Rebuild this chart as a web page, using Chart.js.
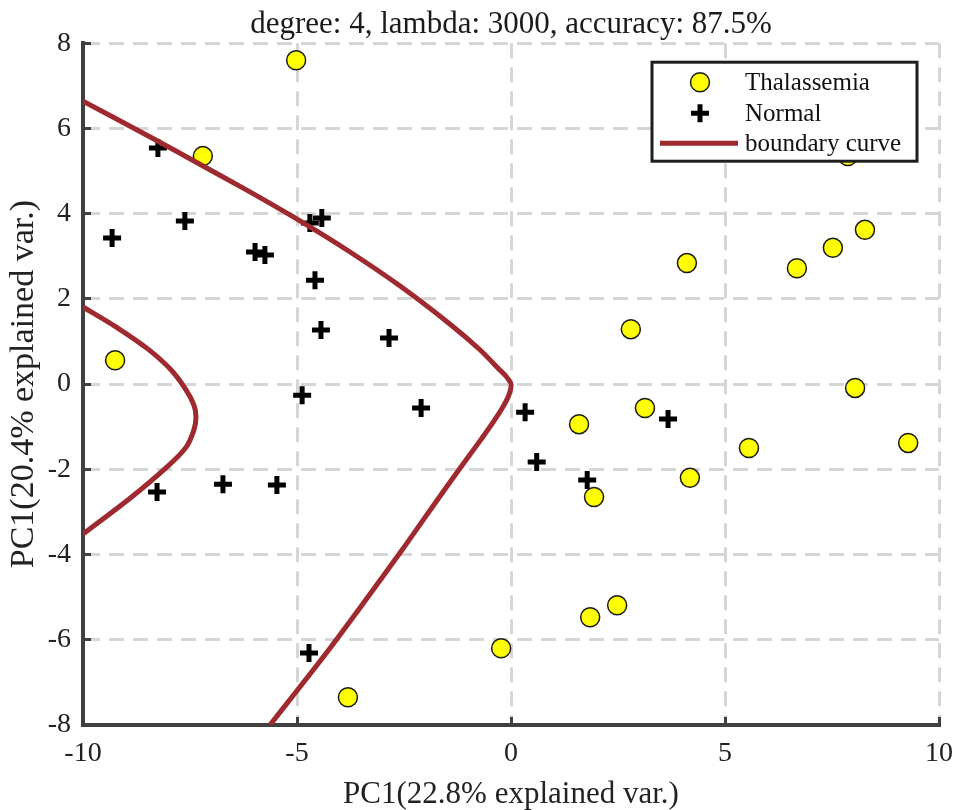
<!DOCTYPE html>
<html>
<head>
<meta charset="utf-8">
<script src="https://cdn.jsdelivr.net/npm/chart.js@4.4.0/dist/chart.umd.min.js"></script>
<style>
html,body{margin:0;padding:0;background:#fff;}
#wrap{width:963px;height:810px;position:relative;}
</style>
</head>
<body>
<div id="wrap"><canvas id="c"></canvas></div>
<script>
// ---- data ----
const titleText = 'degree: 4, lambda: 3000, accuracy: 87.5%';
const xAxisLabel = 'PC1(22.8% explained var.)';
const yAxisLabel = 'PC1(20.4% explained var.)';
const seriesNames = ['Thalassemia', 'Normal', 'boundary curve'];

const xTicks = [-10, -5, 0, 5, 10];
const yTicks = [-8, -6, -4, -2, 0, 2, 4, 6, 8];

const thalX = [-5.02, -7.2, -9.25, 7.87, 8.27, 7.52, 6.68, 4.11, 2.8, 8.04, 9.28, 5.56, 3.13, 1.59, 1.94, 4.18, 1.85, 2.48, -0.23, -3.81];
const thalY = [7.6, 5.35, 0.56, 5.35, 3.62, 3.2, 2.72, 2.84, 1.29, -0.09, -1.38, -1.5, -0.56, -0.94, -2.65, -2.2, -5.47, -5.19, -6.2, -7.35];

const normX = [-8.25, -9.32, -7.62, -5.98, -5.75, -4.7, -4.42, -4.58, -4.44, -2.85, -4.88, -2.1, 0.33, 3.67, 0.6, 1.78, -8.27, -6.73, -5.47, -4.72];
const normY = [5.54, 3.43, 3.83, 3.1, 3.03, 3.78, 3.9, 2.44, 1.27, 1.08, -0.26, -0.56, -0.66, -0.82, -1.83, -2.25, -2.53, -2.35, -2.37, -6.31];

const curve1X = [-10, -8.43, -7.27, -6.10, -4.93, -3.76, -2.59, -1.43, -0.72, -0.26, -0.12, 0.0, -0.05, -0.19, -0.40, -0.68, -1.00, -1.66, -2.55, -4.23, -5.63];
const curve1Y = [6.64, 5.80, 5.16, 4.51, 3.83, 3.10, 2.30, 1.41, 0.80, 0.33, 0.19, 0.0, -0.26, -0.54, -0.87, -1.27, -1.71, -2.63, -3.90, -6.20, -8.0];

const curve2X = [-10, -9.18, -8.48, -7.94, -7.59, -7.41, -7.36, -7.41, -7.59, -8.01, -8.90, -10];
const curve2Y = [1.81, 1.31, 0.82, 0.33, -0.14, -0.49, -0.77, -1.08, -1.48, -1.92, -2.68, -3.52];

const zip = (xs, ys) => xs.map((x, i) => ({x: x, y: ys[i]}));

const SERIF = '"Liberation Serif", "Times New Roman", serif';
const curveColor = '#9e2a2f';

const boxLegend = {
  id: 'boxLegend',
  afterDatasetsDraw(chart) {
    const {ctx, chartArea} = chart;
    const w = 265, h = 99;
    const x0 = chartArea.right - 22 - w;
    const y0 = chartArea.top + 19;
    ctx.save();
    ctx.fillStyle = '#ffffff';
    ctx.fillRect(x0, y0, w, h);
    ctx.lineWidth = 3;
    ctx.strokeStyle = '#1e1e1e';
    ctx.strokeRect(x0, y0, w, h);
    const rows = [20, 51, 81];
    const ds = chart.data.datasets;
    ctx.font = '25px ' + SERIF;
    ctx.textBaseline = 'middle';
    ctx.textAlign = 'left';
    for (let i = 0; i < 3; i++) {
      const cy = y0 + rows[i];
      const mx = x0 + 48;
      const d = ds[i];
      if (i === 0) {
        ctx.beginPath();
        ctx.arc(mx, cy, 9.5, 0, Math.PI * 2);
        ctx.fillStyle = d.backgroundColor;
        ctx.fill();
        ctx.lineWidth = 1.5;
        ctx.strokeStyle = d.borderColor;
        ctx.stroke();
      } else if (i === 1) {
        ctx.beginPath();
        ctx.lineWidth = 5;
        ctx.strokeStyle = d.borderColor;
        ctx.moveTo(mx - 9, cy); ctx.lineTo(mx + 9, cy);
        ctx.moveTo(mx, cy - 9); ctx.lineTo(mx, cy + 9);
        ctx.stroke();
      } else {
        ctx.beginPath();
        ctx.lineWidth = 5;
        ctx.strokeStyle = d.borderColor;
        ctx.moveTo(x0 + 8, cy); ctx.lineTo(x0 + 86, cy);
        ctx.stroke();
      }
      ctx.fillStyle = '#111';
      ctx.fillText(seriesNames[i], x0 + 93, cy + 1);
    }
    ctx.restore();
  }
};

const bgPlugin = {
  id: 'bg',
  beforeDraw(chart) {
    const {ctx} = chart;
    ctx.save();
    ctx.fillStyle = '#ffffff';
    ctx.fillRect(0, 0, chart.width, chart.height);
    ctx.restore();
  }
};

new Chart(document.getElementById('c'), {
  type: 'scatter',
  data: {
    datasets: [
      {
        label: seriesNames[0],
        data: zip(thalX, thalY),
        pointStyle: 'circle',
        pointRadius: 9.5,
        pointHoverRadius: 9.5,
        backgroundColor: '#ffff00',
        borderColor: '#1a1a1a',
        pointBorderWidth: 1.5,
        order: 2
      },
      {
        label: seriesNames[1],
        data: zip(normX, normY),
        pointStyle: 'cross',
        pointRadius: 9,
        pointHoverRadius: 9,
        backgroundColor: '#000000',
        borderColor: '#000000',
        pointBorderWidth: 5,
        order: 2
      },
      {
        label: seriesNames[2],
        data: zip(curve1X, curve1Y),
        showLine: true,
        pointRadius: 0,
        borderColor: curveColor,
        backgroundColor: curveColor,
        borderWidth: 5,
        tension: 0.25,
        fill: false,
        order: 1
      },
      {
        label: seriesNames[2] + ' (2)',
        data: zip(curve2X, curve2Y),
        showLine: true,
        pointRadius: 0,
        borderColor: curveColor,
        backgroundColor: curveColor,
        borderWidth: 5,
        tension: 0.25,
        fill: false,
        order: 1
      }
    ]
  },
  options: {
    responsive: true,
    maintainAspectRatio: false,
    animation: false,
    layout: {padding: {top: 0, right: 24, bottom: 0, left: 0}},
    plugins: {
      legend: {display: false},
      tooltip: {enabled: false},
      title: {
        display: true,
        fullSize: false,
        text: titleText,
        color: '#1a1a1a',
        font: {family: SERIF, size: 31, weight: 'normal', lineHeight: 1.2},
        padding: {top: 6, bottom: 0}
      }
    },
    scales: {
      x: {
        type: 'linear',
        min: -10, max: 10,
        afterBuildTicks: s => { s.ticks = xTicks.map(v => ({value: v})); },
        afterFit: s => { s.height = 85; s.paddingRight = 0; s.paddingLeft = 0; },
        grid: {
          color: '#d6d6d6', lineWidth: 3,
          drawTicks: true, tickLength: -8, tickColor: '#404040', tickWidth: 3, tickBorderDash: []
        },
        border: {display: true, color: '#404040', width: 4, dash: [15, 9]},
        ticks: {color: '#222', font: {family: SERIF, size: 28}, padding: 20, maxRotation: 0},
        title: {
          display: true, text: xAxisLabel, color: '#222',
          font: {family: SERIF, size: 31, lineHeight: 1.0}, padding: {top: 0, bottom: 0}
        }
      },
      y: {
        type: 'linear',
        min: -8, max: 8,
        afterBuildTicks: s => { s.ticks = yTicks.map(v => ({value: v})); },
        afterFit: s => { s.width = 83; },
        grid: {
          color: '#d6d6d6', lineWidth: 3,
          drawTicks: true, tickLength: -8, tickColor: '#404040', tickWidth: 3, tickBorderDash: []
        },
        border: {display: true, color: '#404040', width: 4, dash: [15, 9]},
        ticks: {color: '#222', font: {family: SERIF, size: 28}, padding: 20},
        title: {
          display: true, text: yAxisLabel, color: '#222',
          font: {family: SERIF, size: 34, lineHeight: 1.2}, padding: {top: 4, bottom: 0}
        }
      }
    }
  },
  plugins: [bgPlugin, boxLegend]
});
</script>
</body>
</html>
